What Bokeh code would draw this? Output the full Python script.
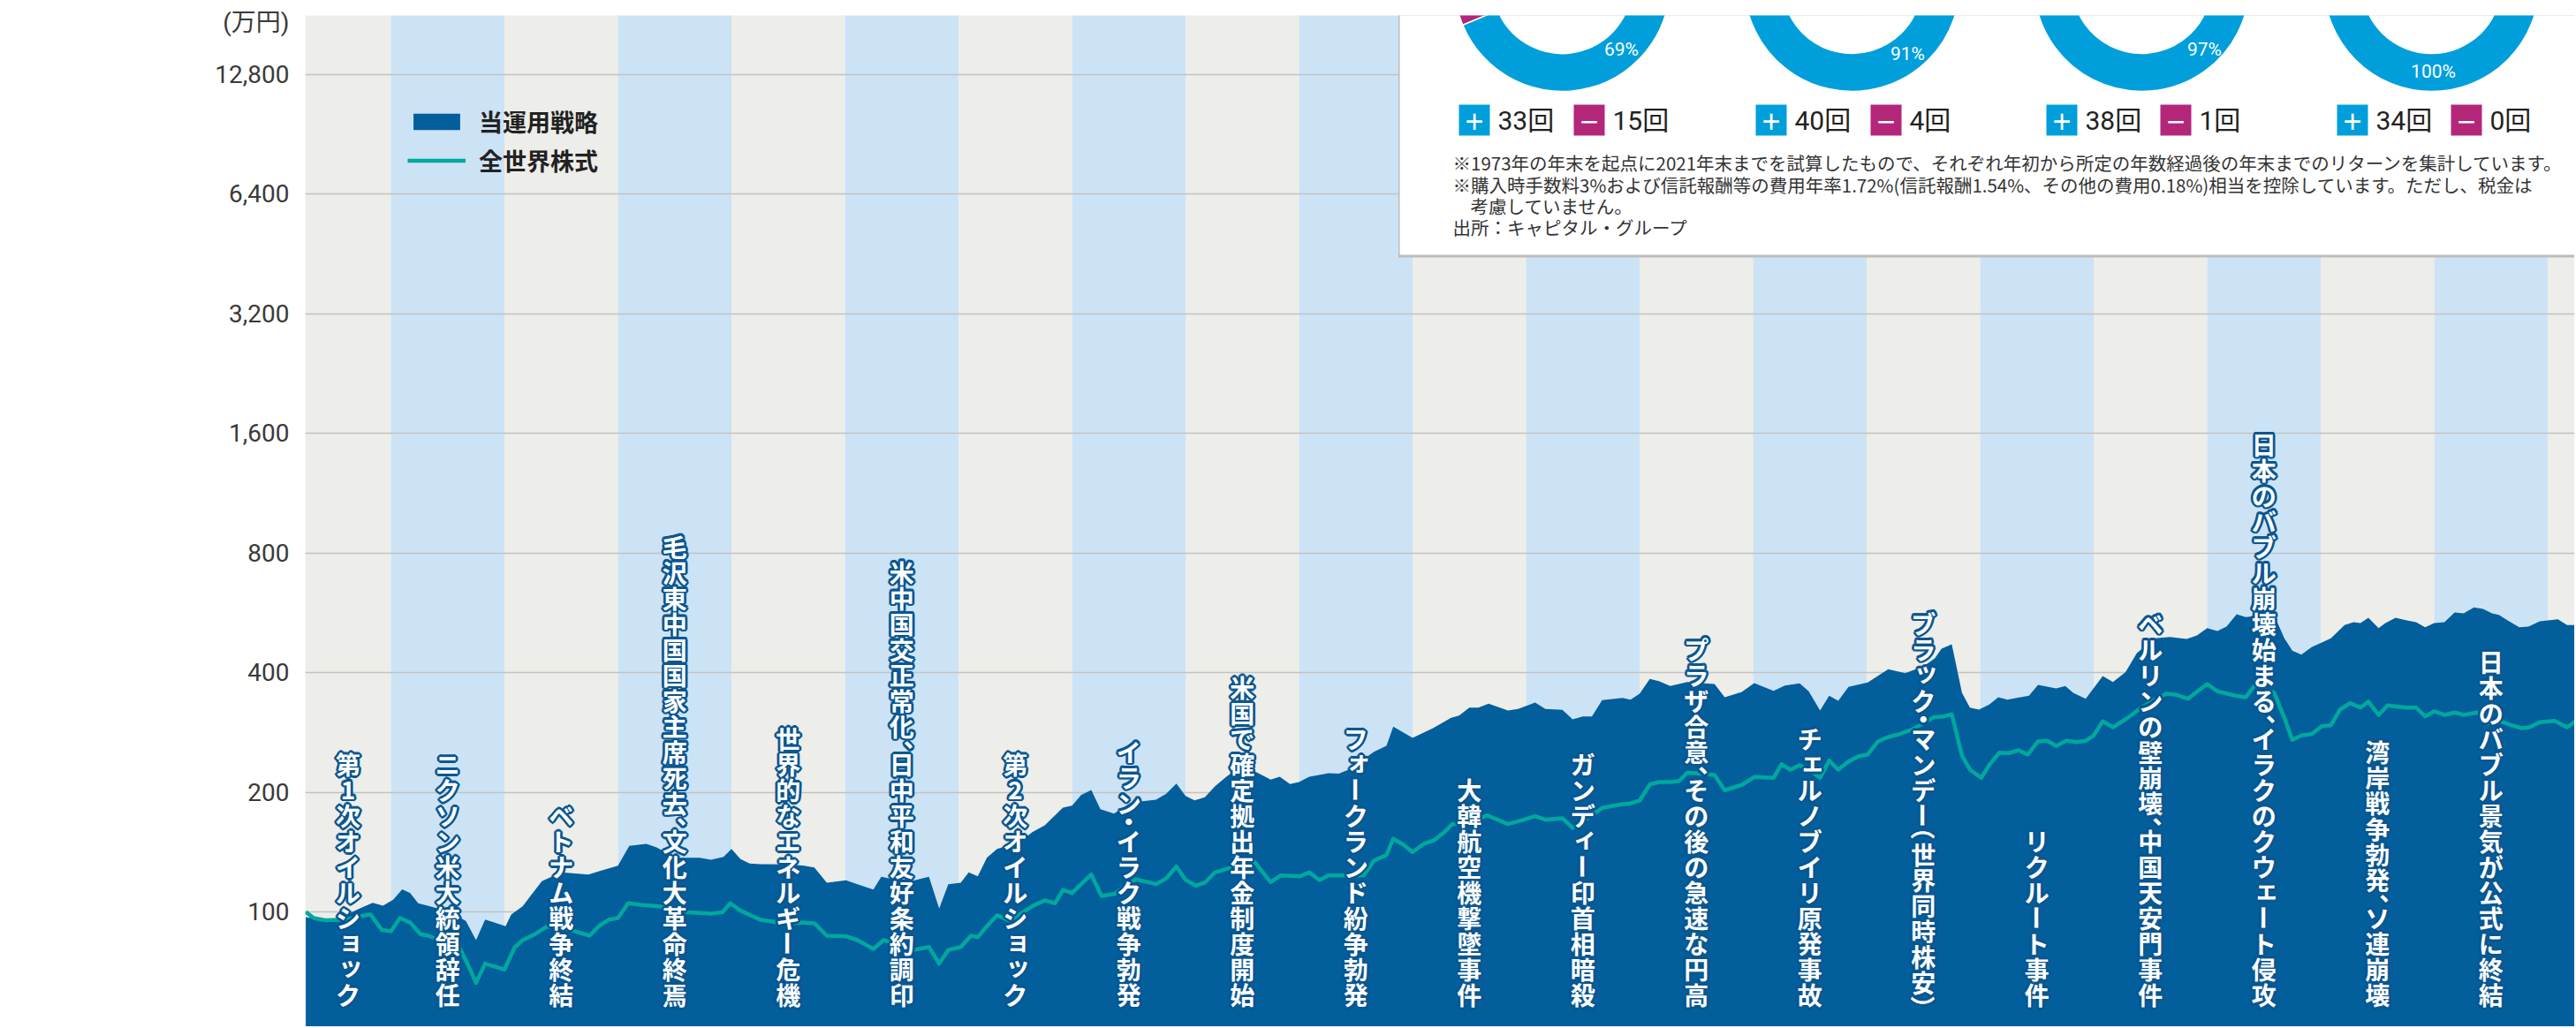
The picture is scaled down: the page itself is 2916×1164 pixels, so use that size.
import math
from bokeh.plotting import figure
from bokeh.models import (Range1d, FixedTicker, NumeralTickFormatter, ColumnDataSource,
                          Legend, LegendItem)
from bokeh.core.properties import value
from bokeh.embed import file_html
from bokeh.resources import INLINE

# ---------------------------------------------------------------- data
strategy_t = [1973.25, 1973.48, 1973.58, 1973.71, 1973.84, 1973.93, 1974.02, 1974.10, 1974.17, 1974.24,
              1974.39, 1974.59, 1974.66, 1974.75, 1974.83, 1974.91, 1975.01, 1975.06, 1975.16, 1975.24,
              1975.33, 1975.50, 1975.74, 1975.84, 1976.00, 1976.10, 1976.25, 1976.34, 1976.51, 1976.72,
              1976.82, 1976.93, 1977.00, 1977.08, 1977.16, 1977.25, 1977.51, 1977.64, 1977.73, 1977.84,
              1978.01, 1978.11, 1978.25, 1978.32, 1978.55, 1978.74, 1978.83, 1978.91, 1979.02, 1979.09,
              1979.17, 1979.25, 1979.34, 1979.54, 1979.65, 1979.76, 1979.92, 1980.00, 1980.08, 1980.17,
              1980.25, 1980.37, 1980.52, 1980.74, 1980.83, 1980.92, 1981.00, 1981.08, 1981.17, 1981.26,
              1981.36, 1981.52, 1981.60, 1981.75, 1981.83, 1981.92, 1982.00, 1982.09, 1982.26, 1982.35,
              1982.44, 1982.66, 1982.77, 1982.83, 1983.00, 1983.18, 1983.34, 1983.41, 1983.50, 1983.58,
              1983.67, 1983.84, 1983.93, 1984.08, 1984.17, 1984.32, 1984.41, 1984.50, 1984.58, 1984.67,
              1984.85, 1984.92, 1985.00, 1985.09, 1985.17, 1985.27, 1985.42, 1985.66, 1985.75, 1985.90,
              1986.01, 1986.18, 1986.28, 1986.41, 1986.49, 1986.59, 1986.67, 1986.75, 1986.84, 1987.01,
              1987.19, 1987.34, 1987.50, 1987.60, 1987.66, 1987.75, 1987.84, 1987.91, 1987.99, 1988.08,
              1988.16, 1988.24, 1988.43, 1988.51, 1988.67, 1988.75, 1988.82, 1988.93, 1989.08, 1989.17,
              1989.28, 1989.38, 1989.54, 1989.67, 1989.82, 1989.91, 1990.00, 1990.09, 1990.17, 1990.26,
              1990.34, 1990.51, 1990.60, 1990.68, 1990.75, 1990.83, 1990.92, 1991.09, 1991.21, 1991.29,
              1991.35, 1991.42, 1991.51, 1991.57, 1991.66, 1991.75, 1991.84, 1991.92, 1992.00, 1992.09,
              1992.18, 1992.26, 1992.35, 1992.43, 1992.51, 1992.57, 1992.65, 1992.75, 1992.83, 1992.93,
              1993.09, 1993.17, 1993.25]
strategy_v = [97.0, 94.9, 97.3, 101.5, 105.4, 103.6, 107.3, 114.0, 111.5, 105.1,
              102.4, 97.3, 94.9, 84.9, 95.6, 94.0, 92.0, 98.5, 103.3, 110.6,
              119.4, 125.7, 124.2, 126.7, 130.7, 146.6, 148.3, 145.3, 136.8, 136.8,
              135.2, 137.5, 144.0, 135.7, 132.3, 131.8, 131.6, 130.7, 129.3, 118.4,
              120.0, 117.4, 113.8, 122.5, 118.8, 122.5, 101.9, 117.4, 118.4, 125.7,
              122.9, 136.8, 144.0, 149.8, 158.7, 165.1, 182.9, 185.1, 196.8, 202.6,
              181.3, 176.7, 188.3, 191.5, 198.2, 210.3, 195.8, 190.8, 194.2, 207.1,
              218.7, 236.2, 226.4, 215.1, 218.7, 209.7, 212.1, 218.7, 223.3, 222.6,
              228.2, 252.8, 261.6, 292.3, 274.0, 289.8, 307.7, 311.8, 326.5, 326.5,
              333.9, 321.0, 323.8, 336.2, 323.8, 322.2, 305.0, 310.2, 310.2, 340.9,
              345.4, 341.9, 353.8, 385.4, 380.7, 370.0, 378.8, 374.3, 346.7, 357.5,
              376.2, 359.9, 371.1, 375.7, 358.8, 321.0, 349.7, 339.6, 368.1, 377.6,
              407.7, 398.6, 414.7, 434.2, 459.3, 471.2, 355.7, 326.5, 322.7, 332.2,
              346.7, 341.9, 349.7, 372.4, 364.9, 370.0, 355.7, 343.7, 392.0, 378.8,
              400.7, 447.7, 487.6, 491.6, 485.9, 496.0, 517.5, 508.8, 522.0, 560.8,
              551.3, 558.6, 549.4, 487.6, 453.9, 443.9, 463.4, 487.6, 526.6, 535.5,
              532.8, 549.4, 517.5, 532.8, 549.4, 541.9, 535.5, 520.1, 532.8, 535.5,
              566.5, 563.6, 583.3, 578.2, 563.6, 558.6, 540.2, 520.1, 522.0, 538.3,
              544.7, 526.6, 526.6]

world_t = [1973.25, 1973.32, 1973.43, 1973.61, 1973.71, 1973.82, 1973.92, 1974.00, 1974.08, 1974.17,
           1974.26, 1974.33, 1974.61, 1974.68, 1974.75, 1974.83, 1975.00, 1975.09, 1975.16, 1975.27,
           1975.37, 1975.46, 1975.58, 1975.75, 1975.84, 1975.92, 1976.00, 1976.09, 1976.20, 1976.36,
           1976.49, 1976.62, 1976.82, 1976.92, 1976.99, 1977.08, 1977.25, 1977.49, 1977.62, 1977.73,
           1977.84, 1978.01, 1978.11, 1978.25, 1978.34, 1978.61, 1978.74, 1978.83, 1978.91, 1979.02,
           1979.11, 1979.17, 1979.25, 1979.34, 1979.45, 1979.65, 1979.76, 1979.85, 1979.92, 1980.00,
           1980.08, 1980.17, 1980.26, 1980.37, 1980.56, 1980.74, 1980.83, 1980.92, 1981.00, 1981.09,
           1981.17, 1981.26, 1981.60, 1981.75, 1981.84, 1982.01, 1982.09, 1982.18, 1982.26, 1982.57,
           1982.66, 1982.77, 1982.83, 1982.92, 1983.00, 1983.10, 1983.19, 1983.28, 1983.35, 1983.49,
           1983.66, 1983.84, 1983.98, 1984.08, 1984.17, 1984.32, 1984.41, 1984.50, 1984.67, 1984.84,
           1984.92, 1985.00, 1985.09, 1985.17, 1985.27, 1985.35, 1985.42, 1985.66, 1985.75, 1985.90,
           1986.01, 1986.18, 1986.25, 1986.33, 1986.41, 1986.49, 1986.59, 1986.67, 1986.75, 1986.84,
           1986.93, 1987.01, 1987.10, 1987.19, 1987.29, 1987.40, 1987.59, 1987.68, 1987.75, 1987.84,
           1987.91, 1988.01, 1988.08, 1988.17, 1988.25, 1988.34, 1988.42, 1988.51, 1988.59, 1988.67,
           1988.76, 1988.85, 1988.93, 1989.00, 1989.08, 1989.17, 1989.28, 1989.41, 1989.54, 1989.64,
           1989.73, 1989.83, 1989.92, 1990.00, 1990.09, 1990.25, 1990.34, 1990.42, 1990.59, 1990.68,
           1990.75, 1990.83, 1990.92, 1991.01, 1991.09, 1991.17, 1991.26, 1991.35, 1991.42, 1991.51,
           1991.59, 1991.75, 1991.84, 1991.92, 1992.00, 1992.09, 1992.18, 1992.26, 1992.38, 1992.47,
           1992.57, 1992.68, 1992.77, 1992.84, 1992.93, 1993.06, 1993.17, 1993.25]
world_v = [100.0, 96.5, 95.2, 95.6, 97.3, 98.5, 90.1, 89.4, 96.5, 94.0,
           87.9, 87.1, 80.7, 73.5, 66.3, 74.1, 71.6, 81.4, 84.9, 87.9,
           91.7, 91.7, 90.1, 87.1, 92.5, 95.6, 96.5, 105.1, 104.2, 103.3,
           101.5, 99.8, 99.0, 99.8, 105.1, 100.7, 95.6, 93.2, 94.0, 93.6,
           87.1, 86.8, 84.9, 80.7, 84.9, 80.2, 81.6, 74.1, 80.2, 81.6,
           87.1, 86.4, 92.0, 98.1, 94.9, 103.3, 106.9, 105.1, 113.5, 111.5,
           117.4, 124.2, 109.6, 110.9, 120.8, 117.4, 121.4, 130.0, 120.4, 116.4,
           118.4, 125.7, 134.5, 118.8, 123.5, 122.9, 125.7, 120.2, 123.5, 123.5,
           134.5, 139.0, 152.7, 147.5, 141.4, 148.3, 151.4, 158.7, 166.2, 167.7,
           174.9, 166.2, 170.5, 174.0, 170.5, 172.0, 162.6, 169.1, 182.6, 186.4,
           187.4, 190.5, 209.2, 212.1, 212.1, 213.5, 224.1, 221.0, 202.3, 208.6,
           218.4, 217.3, 235.0, 227.9, 233.8, 227.9, 217.3, 240.2, 227.9, 239.0,
           246.4, 248.6, 268.4, 275.4, 280.0, 287.3, 308.7, 310.2, 314.1, 247.3,
           227.9, 217.3, 234.2, 251.5, 250.8, 255.0, 248.6, 268.4, 269.4, 261.6,
           269.4, 267.5, 269.4, 277.8, 301.5, 291.3, 305.0, 324.8, 341.9, 353.8,
           351.5, 343.7, 359.9, 374.3, 358.8, 349.7, 346.7, 371.1, 355.7, 307.7,
           270.8, 277.8, 280.0, 293.3, 294.8, 322.7, 335.0, 326.5, 338.0, 313.0,
           330.5, 326.5, 326.5, 310.2, 319.4, 313.0, 317.3, 313.0, 317.3, 298.4,
           302.4, 294.8, 289.8, 291.3, 299.9, 302.4, 291.3, 302.4]

y_ticks = [50, 100, 200, 400, 800, 1600, 3200, 6400, 12800]
y_unit = "(万円)"
band_years = list(range(1973, 1994))
event_years = list(range(1973, 1993))
event_labels = ["第1次オイルショック", "ニクソン米大統領辞任", "ベトナム戦争終結",
                "毛沢東中国国家主席死去、文化大革命終焉", "世界的なエネルギー危機",
                "米中国交正常化、日中平和友好条約調印", "第2次オイルショック", "イラン・イラク戦争勃発",
                "米国で確定拠出年金制度開始", "フォークランド紛争勃発", "大韓航空機撃墜事件",
                "ガンディー印首相暗殺", "プラザ合意、その後の急速な円高", "チェルノブイリ原発事故",
                "ブラック・マンデー（世界同時株安）", "リクルート事件", "ベルリンの壁崩壊、中国天安門事件",
                "日本のバブル崩壊始まる、イラクのクウェート侵攻", "湾岸戦争勃発、ソ連崩壊",
                "日本のバブル景気が公式に終結"]
series_names = ["当運用戦略", "全世界株式"]
donut_plus = [33, 40, 38, 34]
donut_minus = [15, 4, 1, 0]
note_lines = ["※1973年の年末を起点に2021年末までを試算したもので、それぞれ年初から所定の年数経過後の年末までのリターンを集計しています。",
              "※購入時手数料3%および信託報酬等の費用年率1.72%(信託報酬1.54%、その他の費用0.18%)相当を控除しています。ただし、税金は",
              "考慮していません。",
              "出所：キャピタル・グループ"]

# ---------------------------------------------------------------- layout
BEIGE, LBLUE = "#EDEDE9", "#CCE3F5"
AREA, TEAL, GRID = "#035E9C", "#00A89D", "#C2C2C2"
OUTLINE = "#0A5690"
D_BLUE, D_MAG, DARK = "#009FDB", "#B3267A", "#333333"
JP = "Noto Sans CJK JP"
NUMF = "Roboto, 'Noto Sans CJK JP'"

FIG_W, FIG_H = 2914, 1162
FL, FT, FB, FR = 345, 17, FIG_H, FIG_W        # frame edges, page pixels
PXY = 128.5                                  # px per year
X0 = 1974 - (442 - FL) / PXY
X1 = X0 + (FR - FL) / PXY
OCT = 135.5                                  # px per doubling
G12800 = 83.5
Y_TOP = 12800 * 2 ** ((G12800 - FT) / OCT)
Y_BOT = 12800 * 2 ** (-(FB - G12800) / OCT)


def dx(px):
    return X0 + (px - FL) / PXY


def dy(py):
    return Y_BOT * 2 ** ((FB - py) / OCT)


p = figure(width=FIG_W, height=FIG_H, x_range=Range1d(X0, X1), y_range=Range1d(Y_BOT, Y_TOP),
           y_axis_type="log", x_axis_location=None, toolbar_location=None, output_backend="svg",
           min_border_left=FL, min_border_right=0, min_border_top=FT, min_border_bottom=0)
p.outline_line_color = None
p.xgrid.visible = False
p.ygrid.ticker = FixedTicker(ticks=y_ticks)
p.ygrid.grid_line_color = GRID
p.ygrid.grid_line_width = 1.5

# the unit caption sits as an extra labelled tick at the top of the axis
unit_pos = round(dy(25))
ax = p.yaxis[0]
ax.ticker = FixedTicker(ticks=y_ticks + [unit_pos])
ax.formatter = NumeralTickFormatter(format="0,0")
ax.major_label_overrides = {unit_pos: y_unit}
ax.axis_line_color = None
ax.major_tick_line_color = None
ax.minor_tick_line_color = None
ax.major_tick_out = 0
ax.major_tick_in = 0
ax.major_label_standoff = 18
ax.major_label_text_font = NUMF
ax.major_label_text_font_size = "28px"
ax.major_label_text_color = "#3a3a3a"

# year bands
bl = [max(y, X0) for y in band_years]
br = [y + 1 for y in band_years]
bc = [BEIGE if (y - band_years[0]) % 2 == 0 else LBLUE for y in band_years]
p.quad(left=bl, right=br, bottom=Y_BOT / 10, top=Y_TOP * 10, fill_color=bc, line_color=None, level="image")

area = p.varea(x=strategy_t, y1=1, y2=strategy_v, fill_color=AREA)
line = p.line(world_t, world_v, line_color=TEAL, line_width=4.5, line_join="round")

# vertical event labels (one upright character per cell)
PITCH = 29.0
HALF = "、・（）"
SMALL = "ァィゥェォッャュョ"
BOTTOM = 1140
ex, ey, et, ea = [], [], [], []
for yr, lab in zip(event_years, event_labels):
    cx = FL + ((max(yr, X0) + yr + 1) / 2 - X0) * PXY
    adv = [PITCH * 0.5 if c in HALF else PITCH for c in lab]
    cur = BOTTOM - sum(adv)
    for c, a in zip(lab, adv):
        cy = cur + a / 2
        cur += a
        tx, ty, ang = 0, 0, 0.0
        if c == "、":
            tx, ty = 16, -9
        elif c == "（":
            ang, ty = -math.pi / 2, -8
        elif c == "）":
            ang, ty = -math.pi / 2, 8
        elif c == "ー":
            ang = -math.pi / 2
        elif c in SMALL:
            tx, ty = 3, -4
        ex.append(dx(cx + tx))
        ey.append(dy(cy + ty))
        et.append(c)
        ea.append(ang)

# dark halo behind the characters
hx, hy, ht, ha, hox, hoy = [], [], [], [], [], []
for k in range(12):
    th = 2 * math.pi * k / 12
    ox, oy = 2.7 * math.cos(th), 2.7 * math.sin(th)
    hx += ex; hy += ey; ht += et; ha += ea
    hox += [ox] * len(ex); hoy += [oy] * len(ex)
p.text(x="x", y="y", text="t", angle="a", x_offset="ox", y_offset="oy",
       source=ColumnDataSource(dict(x=hx, y=hy, t=ht, a=ha, ox=hox, oy=hoy)),
       text_font=value(JP), text_font_style="bold", text_font_size="28px", text_color=OUTLINE,
       text_align="center", text_baseline="middle")
p.text(x="x", y="y", text="t", angle="a", source=ColumnDataSource(dict(x=ex, y=ey, t=et, a=ea)),
       text_font=value(JP), text_font_style="bold", text_font_size="28px", text_color="white",
       text_align="center", text_baseline="middle")

# legend
legend = Legend(items=[LegendItem(label=series_names[0], renderers=[area]),
                       LegendItem(label=series_names[1], renderers=[line])],
                location=(461 - FL, FB - 201), orientation="vertical",
                glyph_width=66, glyph_height=23, label_standoff=15, spacing=5, padding=0, margin=0,
                border_line_color=None, background_fill_alpha=0,
                label_text_font=JP, label_text_font_style="bold", label_text_font_size="27px",
                label_text_color="#222222")
p.add_layout(legend)

# inset panel
p.quad(left=dx(1582.5), right=dx(2990), top=dy(-60), bottom=dy(291), fill_color="#BDBDBD", line_color=None)
p.quad(left=dx(1584), right=dx(2990), top=dy(-60), bottom=dy(288), fill_color="white", line_color=None)

DCX = [1768, 2096, 2424, 2752]
DCY = -19
wx, wy, ws, we, wc = [], [], [], [], []
for i, (pl, mi) in enumerate(zip(donut_plus, donut_minus)):
    frac = pl / (pl + mi)
    wx.append(dx(DCX[i])); wy.append(dy(DCY))
    ws.append(math.pi / 2); we.append(math.pi / 2 - 2 * math.pi * frac); wc.append(D_BLUE)
    if mi > 0:
        wx.append(dx(DCX[i])); wy.append(dy(DCY))
        ws.append(math.pi / 2 - 2 * math.pi * frac); we.append(math.pi / 2 - 2 * math.pi); wc.append(D_MAG)
p.annular_wedge(x="x", y="y", inner_radius=79, outer_radius=122, inner_radius_units="screen",
                outer_radius_units="screen", start_angle="s", end_angle="e", direction="clock",
                fill_color="c", line_color="white", line_width=1.5,
                source=ColumnDataSource(dict(x=wx, y=wy, s=ws, e=we, c=wc)))

PCT_DX = [67, 63, 71, 2]
PCT_DY = [74, 79, 74, 99]
pct_txt = [f"{round(100 * pl / (pl + mi))}%" for pl, mi in zip(donut_plus, donut_minus)]
p.text(x=[dx(DCX[i] + PCT_DX[i]) for i in range(4)], y=[dy(DCY + PCT_DY[i]) for i in range(4)],
       text=pct_txt, text_font=value("Roboto"), text_font_size="21px", text_color="white",
       text_align="center", text_baseline="middle")

BLUE_L = [1651, 1987, 2316, 2645]
MAG_L = [1781, 2117, 2445, 2774]
BOX = 35
BOX_T = 118
p.quad(left=[dx(v) for v in BLUE_L + MAG_L], right=[dx(v + BOX) for v in BLUE_L + MAG_L],
       top=dy(BOX_T), bottom=dy(BOX_T + BOX), fill_color=[D_BLUE] * 4 + [D_MAG] * 4, line_color=None)
p.text(x=[dx(v + BOX / 2) for v in BLUE_L + MAG_L], y=dy(BOX_T + BOX / 2 + 1),
       text=["+"] * 4 + ["−"] * 4, text_font=value("Liberation Sans"), text_font_size="36px",
       text_color="white", text_align="center", text_baseline="middle")
p.text(x=[dx(v + BOX + 9) for v in BLUE_L + MAG_L], y=dy(BOX_T + BOX / 2),
       text=[f"{n}回" for n in donut_plus + donut_minus], text_font=value(NUMF),
       text_font_size="30px", text_color="#222222", text_align="left", text_baseline="middle")

NOTE_X = [1644, 1644, 1664, 1644]
NOTE_Y = [183, 208, 232, 256]
p.text(x=[dx(v) for v in NOTE_X], y=[dy(v) for v in NOTE_Y], text=note_lines,
       text_font=value(JP), text_font_size="20.5px", text_color=DARK,
       text_align="left", text_baseline="middle")

open("out.html", "w").write(file_html(p, INLINE))
